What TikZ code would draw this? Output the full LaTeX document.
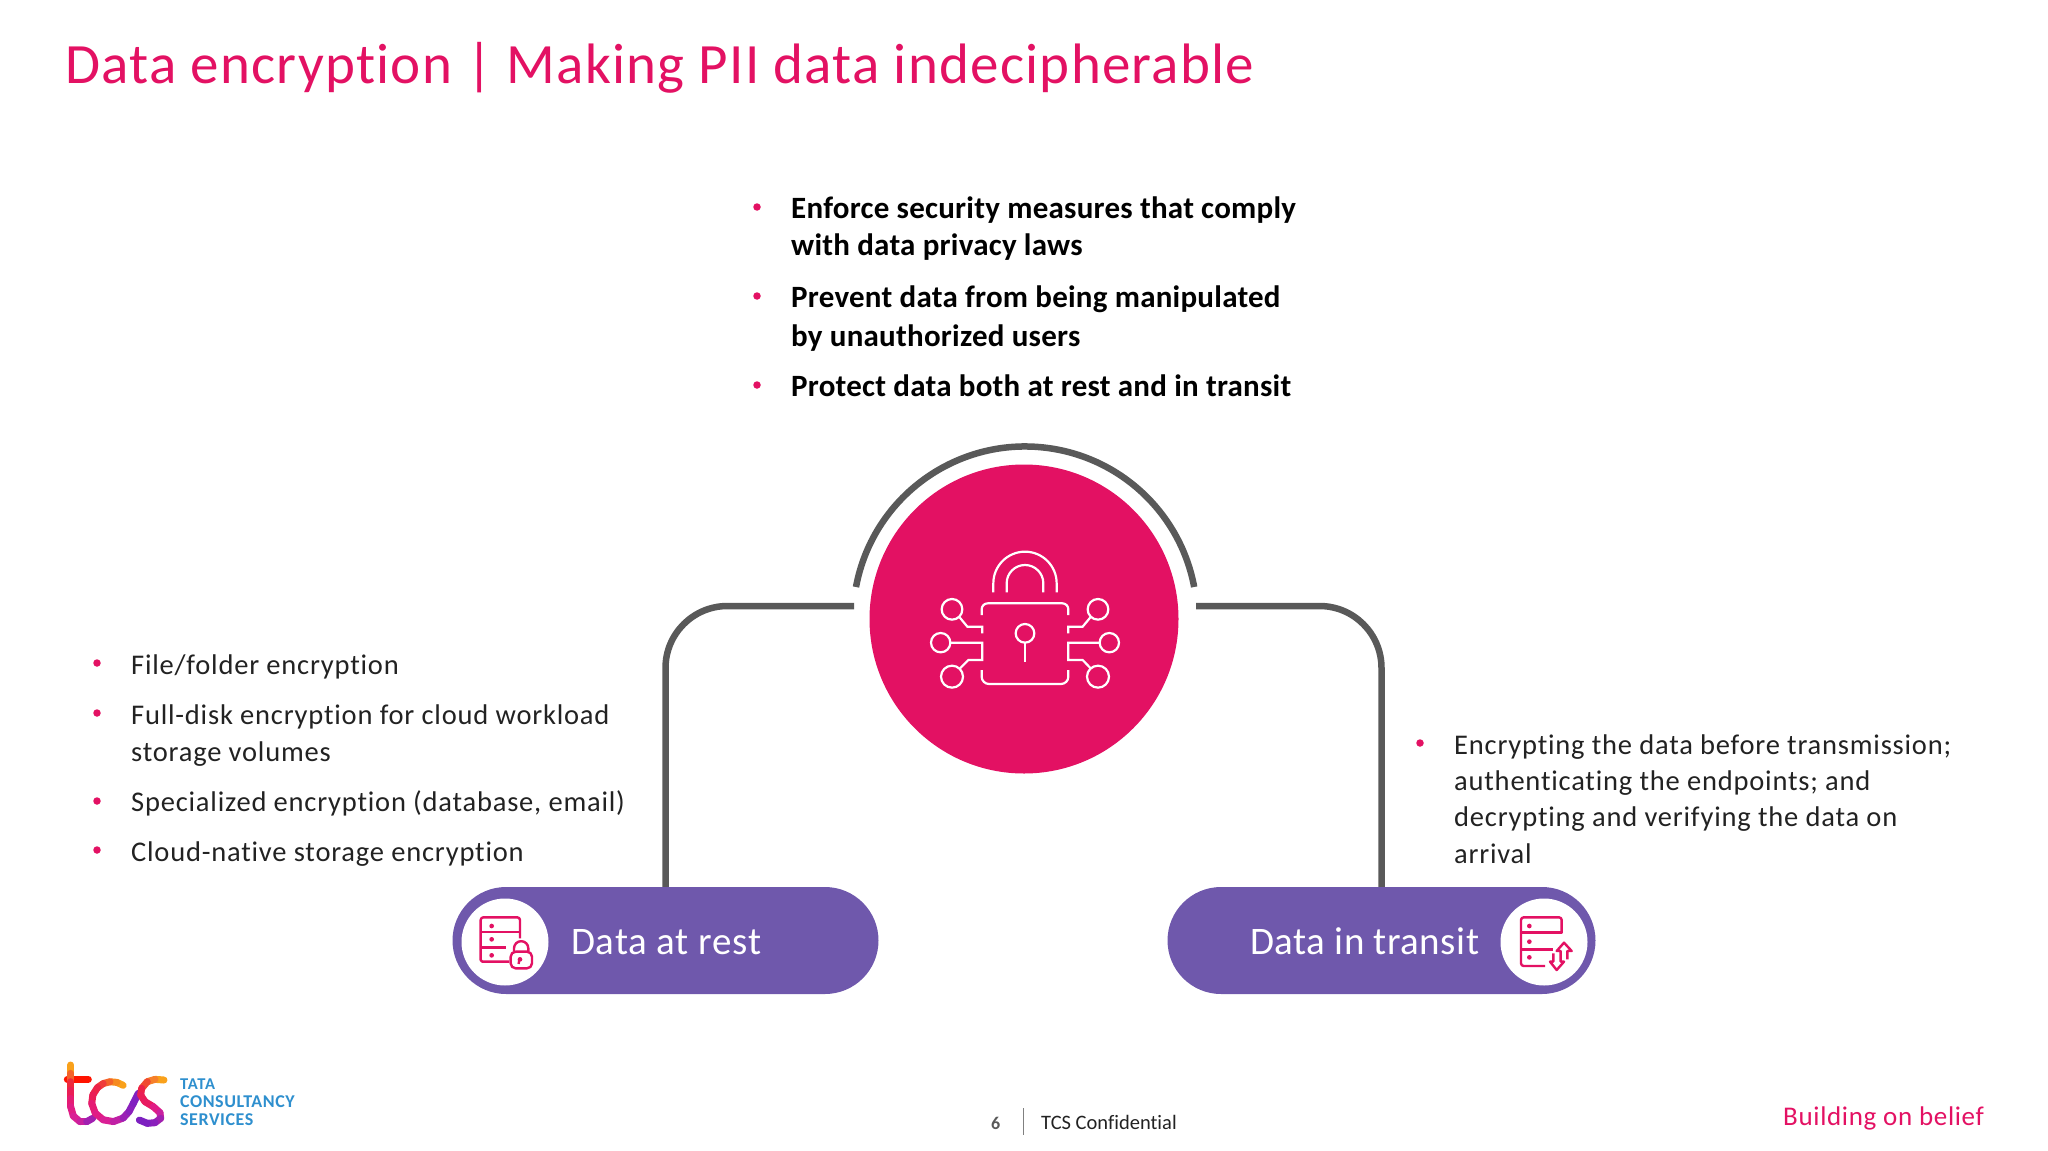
\documentclass[tikz,border=0pt]{standalone}
\usepackage{fontspec}
\setmainfont[Ligatures=CommonOff]{Carlito}
\usetikzlibrary{shapes.misc}
\definecolor{tcspink}{HTML}{E31163}
\definecolor{tcsgrey}{HTML}{595959}
\definecolor{tcspurple}{HTML}{6F58AC}
\definecolor{tcsblue}{HTML}{2E8FCE}
\definecolor{tcstext}{HTML}{222222}
\tikzset{
  x=1pt,y=1pt,
  titletext/.style={anchor=base west,inner sep=0,text=tcspink,font=\fontsize{57}{60}\selectfont\addfontfeatures{LetterSpace=2.2}},
  bodytext/.style={anchor=base west,inner sep=0,text=tcstext,font=\fontsize{28.5}{36.6}\selectfont\addfontfeatures{LetterSpace=2.8}},
  boldtext/.style={anchor=base west,inner sep=0,text=black,font=\fontsize{31}{37}\selectfont\bfseries\addfontfeatures{LetterSpace=0.8}},
  bulletdot/.style={circle,fill=tcspink,inner sep=0,minimum size=7.5pt},
  link/.style={draw=tcsgrey,line width=6.5pt},
  pill/.style={rounded rectangle,fill=tcspurple,minimum width=426pt,minimum height=107pt,inner sep=0},
  pilltext/.style={anchor=base west,inner sep=0,text=white,font=\fontsize{39}{40}\selectfont\addfontfeatures{LetterSpace=2}},
  badge/.style={circle,fill=white,inner sep=0,minimum size=87pt},
  iconw/.style={draw=white,line width=2.2pt},
  iconp/.style={draw=tcspink,line width=2.4pt,line join=round},
  footer/.style={anchor=base west,inner sep=0},
  logostroke/.style={line width=7pt,line cap=round},
}
\begin{document}
\begin{tikzpicture}
\useasboundingbox (0,0) rectangle (2048,-1151);
% hub and pills
\node[circle,fill=tcspink,inner sep=0,minimum size=309pt] (hub) at (1024,-619) {};
\node[pill] (pillL) at (665.5,-940.5) {};
\node[pill,minimum width=428pt] (pillR) at (1381.5,-940.5) {};
\coordinate (arcL) at (856,-587);
\coordinate (linkL) at (854,-606);
\coordinate (linkR) at (1196,-606);
\draw[link] (arcL) arc[start angle=169.45,end angle=10.55,radius=172pt];
\draw[link,rounded corners=62pt] (linkL) -| (pillL.north);
\draw[link,rounded corners=62pt] (linkR) -| (pillR.north);
\node[badge] (badgeL) at (505,-942) {};
\node[badge] (badgeR) at (1544,-942) {};
\node[pilltext] (labL) at (571,-954) {Data at rest};
\node[pilltext,font=\fontsize{39}{40}\selectfont\addfontfeatures{LetterSpace=1.3}] (labR) at (1250,-954) {Data in transit};
% lock icon
\begin{scope}[shift={(840,-430)},scale=1/3,iconw]
\draw (460,-487) -- (460,-460) arc[start angle=180,end angle=0,radius=95] -- (650,-487);
\draw (500,-487) -- (500,-460) arc[start angle=180,end angle=0,radius=55] -- (610,-487);
\draw (425,-555) -- (425,-538) arc[start angle=180,end angle=90,radius=18] -- (667,-520) arc[start angle=90,end angle=0,radius=18] -- (685,-555);
\draw (425,-720) -- (425,-740) arc[start angle=180,end angle=270,radius=22] -- (663,-762) arc[start angle=270,end angle=360,radius=22] -- (685,-720);
\draw (555,-610) circle[radius=28];
\draw (555,-638) -- (555,-695);
\draw (336,-538) circle[radius=31];
\draw (302,-638) circle[radius=29];
\draw (336,-740) circle[radius=33];
\draw (774,-538) circle[radius=31];
\draw (808,-638) circle[radius=29];
\draw (774,-740) circle[radius=33];
\draw (358,-561) -- (382,-590) -- (427,-590) -- (427,-610);
\draw (331,-638) -- (427,-638) -- (427,-690) -- (385,-690) -- (360,-715);
\draw (752,-561) -- (728,-590) -- (685,-590) -- (685,-610);
\draw (779,-638) -- (685,-638) -- (685,-690) -- (728,-690) -- (752,-715);
\end{scope}
% server + lock icon
\begin{scope}[shift={(440,-870)},scale=1/3,iconp]
\draw (240,-205) -- (240,-150) arc[start angle=0,end angle=90,radius=8] -- (130,-142) arc[start angle=90,end angle=180,radius=8] -- (122,-270) arc[start angle=180,end angle=270,radius=5] -- (207,-275);
\draw (122,-186) -- (240,-186);
\draw (122,-232) -- (198,-232);
\fill[tcspink] (155,-168) circle[radius=7];
\fill[tcspink] (155,-208) circle[radius=7];
\fill[tcspink] (155,-256) circle[radius=7];
\draw[rounded corners=5pt] (212,-245) rectangle (276,-295);
\draw (222,-245) -- (222,-235) arc[start angle=180,end angle=0,radius=21.5] -- (265,-245);
\fill[tcspink] (240,-268) circle[radius=7];
\draw (238,-268) -- (236,-282);
\end{scope}
% server + arrows icon
\begin{scope}[shift={(1490,-890)},scale=1/3,iconp]
\draw (215,-130) -- (215,-90) arc[start angle=0,end angle=90,radius=8] -- (101,-82) arc[start angle=90,end angle=180,radius=8] -- (93,-220) arc[start angle=180,end angle=270,radius=8] -- (165,-228);
\draw (93,-128) -- (215,-128);
\draw (93,-178) -- (190,-178);
\fill[tcspink] (118,-108) circle[radius=7];
\fill[tcspink] (118,-155) circle[radius=7];
\fill[tcspink] (118,-202) circle[radius=7];
\draw (232,-208) -- (232,-183) -- (245,-183) -- (222,-158) -- (200,-183) -- (212,-183) -- (212,-215) -- (222,-215) -- (200,-240) -- (180,-215) -- (190,-215) -- (190,-190);
\end{scope}
% title
\node[titletext] (title) at (65,-83) {Data encryption | Making PII data indecipherable};
% top bullets
\node[bulletdot] (bt1) at (757,-207) {};
\node[bulletdot] (bt2) at (757,-296) {};
\node[bulletdot] (bt3) at (757,-385) {};
\node[boldtext] (tt1a) at (791,-218) {Enforce security measures that comply};
\node[boldtext] (tt1b) at (791,-255) {with data privacy laws};
\node[boldtext] (tt2a) at (791,-307) {Prevent data from being manipulated};
\node[boldtext] (tt2b) at (791,-346) {by unauthorized users};
\node[boldtext] (tt3) at (791,-396) {Protect data both at rest and in transit};
% left bullets
\node[bulletdot] (bl1) at (97,-663) {};
\node[bulletdot] (bl2) at (97,-713) {};
\node[bulletdot] (bl3) at (97,-801) {};
\node[bulletdot] (bl4) at (97,-850) {};
\node[bodytext] (lt1) at (131,-674) {File/folder encryption};
\node[bodytext] (lt2a) at (131,-724) {Full-disk encryption for cloud workload};
\node[bodytext] (lt2b) at (131,-761) {storage volumes};
\node[bodytext] (lt3) at (131,-811) {Specialized encryption (database, email)};
\node[bodytext] (lt4) at (131,-861) {Cloud-native storage encryption};
% right bullets
\node[bulletdot] (br1) at (1420,-743) {};
\node[bodytext] (rt1a) at (1454,-754) {Encrypting the data before transmission;};
\node[bodytext] (rt1b) at (1454,-790) {authenticating the endpoints; and};
\node[bodytext] (rt1c) at (1454,-826.5) {decrypting and verifying the data on};
\node[bodytext] (rt1d) at (1454,-863) {arrival};
% footer
\node[footer,text=tcsgrey,font=\fontsize{18}{20}\selectfont\bfseries] (pg) at (991,-1129) {6};
\coordinate (sepT) at (1023,-1108);
\coordinate (sepB) at (1023,-1135);
\draw[draw=gray,line width=1pt] (sepT) -- (sepB);
\node[footer,text=tcstext,font=\fontsize{20.5}{22}\selectfont] (conf) at (1041,-1129) {TCS Confidential};
\node[footer,text=tcspink,font=\fontsize{27}{28}\selectfont\addfontfeatures{LetterSpace=2.5}] (slogan) at (1783,-1125) {Building on belief};
% logo
\node[footer,text=tcsblue,font=\fontsize{16.5}{18}\selectfont\bfseries\addfontfeatures{LetterSpace=5}] (lg1) at (180,-1089) {TATA};
\node[footer,text=tcsblue,font=\fontsize{18}{18}\selectfont\bfseries\addfontfeatures{LetterSpace=3}] (lg2) at (180,-1107) {CONSULTANCY};
\node[footer,text=tcsblue,font=\fontsize{18}{18}\selectfont\bfseries\addfontfeatures{LetterSpace=3}] (lg3) at (180,-1125) {SERVICES};
\begin{scope}[shift={(40,-1040)},scale=1/3,logostroke]
\draw[draw=red!85!orange] (82,-118) -- (145,-118);
\foreach \xa/\ya/\xb/\yb/\c in {92/75/92/100/F9A11B,92/100/92/125/F4622A,92/125/92/150/EE2A3C,92/150/92/175/EA1D55,92/175/92/200/E51B73,92/200/100/228/E01C85,100/228/120/245/D91F95,120/245/140/245/C8209F,140/245/158/235/A020B0}{
  \definecolor{seg}{HTML}{\c}
  \draw[draw=seg] (\xa,-\ya) -- (\xb,-\yb);
}
\foreach \aa/\ab/\c in {55/75/F9A11B,75/95/F68A20,95/115/F4622A,115/135/EF3B3A,135/160/EC2248,160/185/EA1D55,185/215/E51B73,215/245/E01C85,245/275/D91F95,275/305/C020A5,305/330/9A20B5}{
  \definecolor{seg}{HTML}{\c}
  \draw[draw=seg] ({215+60*cos(\aa)},{-185+60*sin(\aa)}) -- ({215+60*cos(\ab)},{-185+60*sin(\ab)});
}
\foreach \xa/\ya/\xb/\yb/\c in {267/215/280/190/8A20BC,280/190/295/160/8020C0}{
  \definecolor{seg}{HTML}{\c}
  \draw[draw=seg] (\xa,-\ya) -- (\xb,-\yb);
}
\foreach \xa/\ya/\xb/\yb/\c in {372/120/345/118/F9A11B,345/118/322/125/F6802A,322/125/305/145/F04A30,305/145/302/165/EC2248,302/165/315/185/EA1D55,315/185/340/200/E81B60,340/200/360/218/E01C85,360/218/362/235/C820A0,362/235/345/248/A020B0,345/248/322/250/8A20BC,322/250/298/240/7C20C0}{
  \definecolor{seg}{HTML}{\c}
  \draw[draw=seg] (\xa,-\ya) -- (\xb,-\yb);
}
\end{scope}
\end{tikzpicture}
\end{document}
